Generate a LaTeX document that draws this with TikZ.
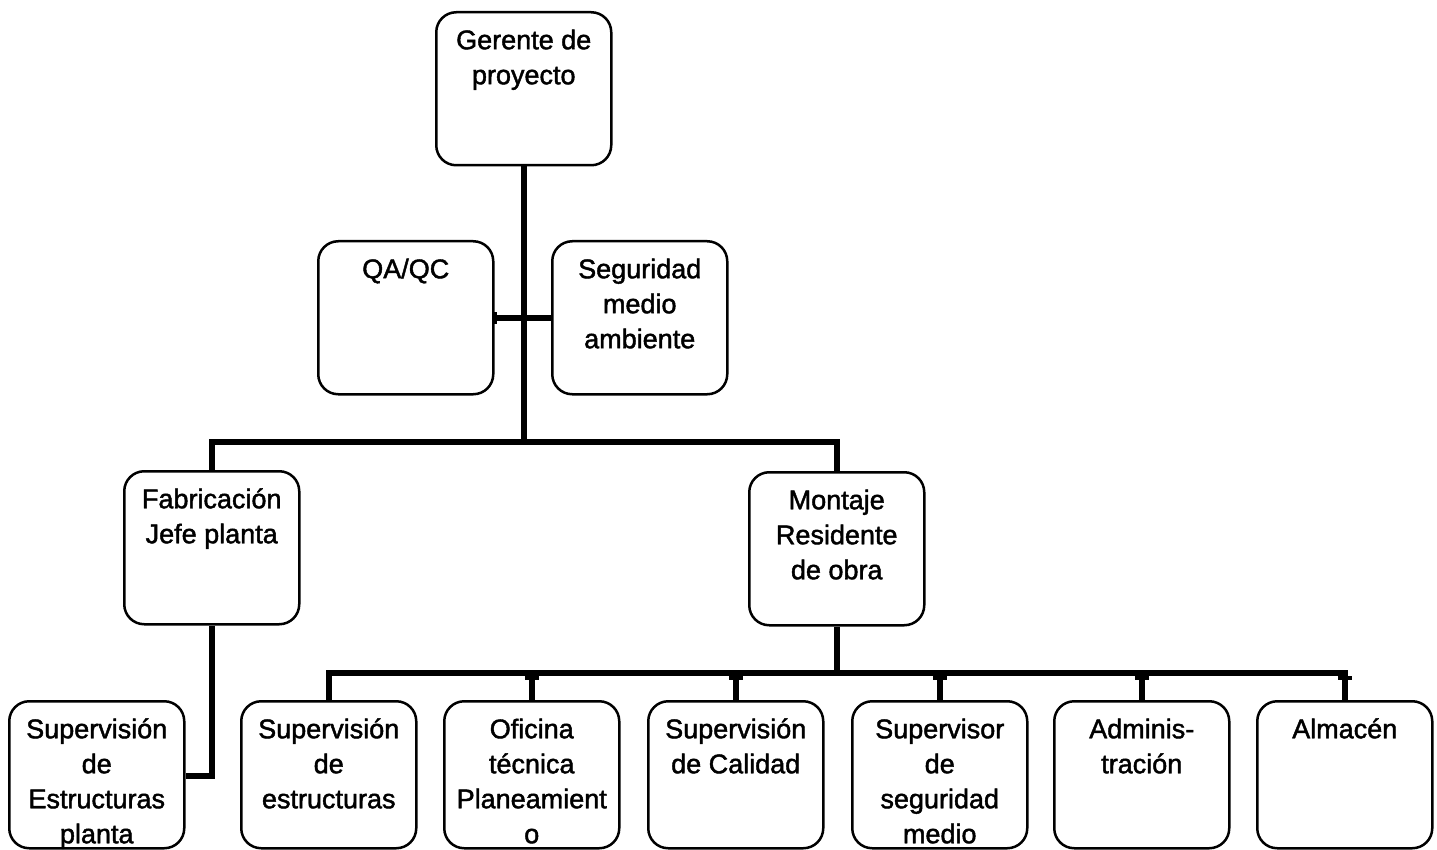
\documentclass[tikz,border=0pt]{standalone}
\usepackage{fontspec}
\setmainfont{Liberation Sans}
\newfontfamily\boxfont{Liberation Sans}[FakeBold=1.6]
\newcommand\boxtext[2][153pt]{\parbox[t][#1][t]{175pt}{\centering\boxfont\fontsize{27}{35}\selectfont\rule{0pt}{37pt}#2}}
\begin{document}
\begin{tikzpicture}[x=1pt,y=-1pt,
  box/.style={draw=black, line width=2.5pt, rounded corners=20pt, inner sep=0pt, anchor=north west, fill=white},
  link/.style={line width=6pt, black},
  tick/.style={line width=4pt, black}]
\useasboundingbox (0,0) rectangle (1437,850);
\clip (0,0) rectangle (1437,850);
\fill[white] (0,0) rectangle (1437,850);

% boxes
\node[box] (ger) at (435,11) {\boxtext{Gerente de\\proyecto}};
\node[box] (qa) at (317,240) {\boxtext{QA/QC}};
\node[box] (seg) at (551,240) {\boxtext{Seguridad\\medio\\ambiente}};
\node[box] (fab) at (123,470) {\boxtext{Fabricación\\Jefe planta}};
\node[box] (mon) at (748,471) {\boxtext{Montaje\\Residente\\de obra}};

\node[box] (sep) at (8,700) {\boxtext[147pt]{Supervisión\\de\\Estructuras\\planta}};
\node[box] (sest) at (240,700) {\boxtext[147pt]{Supervisión\\de\\estructuras}};
\node[box] (ofi) at (443,700) {\boxtext[147pt]{Oficina\\técnica\\Planeamient\\o}};
\node[box] (cal) at (647,700) {\boxtext[147pt]{Supervisión\\de Calidad}};
\node[box] (sup) at (851,700) {\boxtext[147pt]{Supervisor\\de\\seguridad\\medio}};
\node[box] (adm) at (1053,700) {\boxtext[147pt]{Adminis-\\tración}};
\node[box] (alm) at (1256,700) {\boxtext[147pt]{Almacén}};

\coordinate (busA) at (0,442);
\coordinate (busB) at (0,673);
\coordinate (busC) at (0,776);

% connectors
\draw[link] (ger.south) -- (ger.south |- busA);
\draw[link] (qa.east) -- (seg.west);
\draw[tick] ([yshift=-6pt]qa.east) -- ([yshift=6pt]qa.east);
\draw[tick] ([yshift=-6pt]ger.south |- qa.east) -- ([yshift=6pt]ger.south |- qa.east);
\draw[link] (fab.north) -- (fab.north |- busA) -- (mon.north |- busA) -- (mon.north);
\draw[link] (mon.south) -- (mon.south |- busB);
\draw[link] (sest.north) -- (sest.north |- busB) -- (alm.north |- busB) -- (alm.north);
\foreach \n in {ofi,cal,sup,adm}{
  \draw[link] (\n.north |- busB) -- (\n.north);
}
\foreach \n in {ofi,cal,sup,adm,alm}{
  \draw[tick] ([xshift=-7pt,yshift=-5pt]\n.north |- busB) -- ([xshift=7pt,yshift=-5pt]\n.north |- busB);
}
\draw[link] (fab.south) -- (fab.south |- busC) -- (sep.east |- busC);
\end{tikzpicture}
\end{document}
